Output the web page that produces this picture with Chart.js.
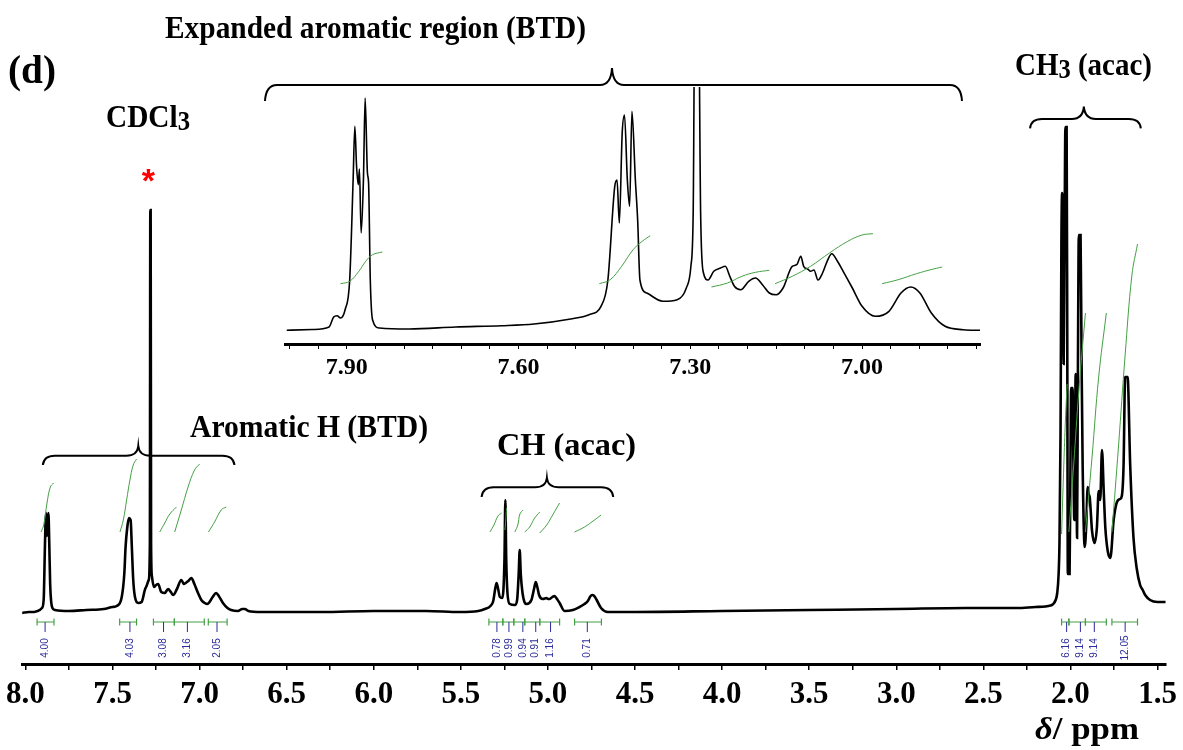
<!DOCTYPE html>
<html><head><meta charset="utf-8">
<script src="https://cdn.jsdelivr.net/npm/chart.js@4.4.1/dist/chart.umd.min.js"></script>
<style>
html,body{margin:0;padding:0;background:#fff;}
#wrap{position:relative;width:1183px;height:750px;overflow:hidden;background:#fff;}
#main{position:absolute;left:0;top:0;}
#inset{position:absolute;left:270px;top:60px;}
</style></head><body>
<div id="wrap"><canvas id="main" width="1183" height="750"></canvas><canvas id="inset" width="730" height="330"></canvas></div>
<script>
// ---------- DATA ----------
// main 1H NMR trace (ppm, intensity above axis)
const mainPpm = [8.019,7.98,7.95,7.93,7.905,7.895,7.889,7.885,7.881,7.877,7.872,7.868,7.863,7.858,7.852,7.845,7.83,7.75,7.65,7.55,7.50,
 7.476,7.447,7.432,7.425,7.415,7.406,7.396,7.389,7.381,7.371,7.352,7.333,7.31,7.292,7.2855,7.283,7.281,7.2785,7.274,7.262,7.25,7.238,7.22,7.20,7.181,7.165,7.152,7.13,7.105,7.09,7.08,7.065,7.047,7.03,7.009,6.99,6.971,6.955,6.943,6.925,6.905,6.89,6.866,6.84,6.819,6.78,6.755,6.74,6.72,6.647,6.3,6.0,5.7,
 5.505,5.40,5.362,5.33,5.314,5.303,5.295,5.287,5.276,5.262,5.2495,5.2445,5.2395,5.232,5.219,5.19,5.177,5.168,5.162,5.156,5.146,5.135,5.123,5.095,5.08,5.07,5.061,5.051,5.029,5.009,4.999,4.99,4.975,4.962,4.948,4.933,4.905,4.857,4.819,4.79,4.771,4.755,4.743,4.73,4.72,4.695,4.657,4.5,4.0,3.5,3.0,2.6,2.305,
 2.2,2.114,2.085,2.076,2.068,2.063,2.057,2.052,2.048,2.043,2.039,2.034,2.029,2.022,2.018,2.015,2.005,2.0,1.996,1.988,1.983,1.978,1.974,1.97,1.966,1.962,1.957,1.952,1.942,1.936,1.93,1.918,1.909,1.901,1.895,1.889,1.876,1.861,1.848,1.838,1.829,1.819,1.809,1.8,1.786,1.771,1.752,1.733,1.715,1.705,1.695,1.686,1.672,1.657,1.638,1.619,1.6,1.585,1.571,1.543,1.5,1.453];
const mainInt = [51,52,52,53,56,65,110,140,151,128,145,151,120,80,62,56,54,53,54,55,57,
 58,67,91,117,137,146,144,117,84,67,61,62,76,84,120,454,454,120,88,77,79,80,72,71,75,72,69,75,84,80,81,83,86,80,71,64,61,60,62,67,71,68,61,56,54,53,55,55,53,52,52,53,53,
 52,53,55,58,63,75,81,76,67,66,105,164,105,70,60,59,64,90,114,90,71,62,60,64,75,82,77,69,65,66,65,65,67,68,65,61,53,54,57,60,63,68,69,67,64,56,52,52,53,54,55,56,56,
 57,58.5,64,71,90,122,230,420,471,440,300,420,537,537,300,90,90,200,276,276,200,144,220,290,220,126,300,429,429,300,199,117,140,177,170,166,133,121,137,173,164,214,173,137,113,106,144,162,165,168,199,287,287,199,126,95,79,74,69,64,62,62];

// expanded aromatic region trace (ppm, intensity above inset axis)
const insetPpm = [8.005,7.96,7.931,7.923,7.917,7.911,7.903,7.895,7.889,7.886,7.883,7.880,7.878,7.875,7.871,7.868,7.864,7.862,7.859,7.855,7.843,7.791,7.71,7.63,7.573,7.509,7.477,7.456,7.444,7.432,7.428,7.424,7.419,7.415,7.41,7.406,7.402,7.396,7.392,7.388,7.376,7.348,7.323,7.307,7.299,7.295,7.2915,7.2865,7.282,7.277,7.269,7.259,7.247,7.239,7.231,7.223,7.212,7.198,7.186,7.174,7.162,7.15,7.138,7.122,7.114,7.107,7.102,7.095,7.09,7.084,7.077,7.069,7.061,7.053,7.043,7.033,7.017,7.0,6.977,6.953,6.932,6.915,6.899,6.879,6.855,6.823,6.794];
const insetInt = [13.7,14.5,17,27,28.3,26,34.3,64,164,217.7,177.7,159.3,175,111,164,246,171,161,64,24,16,15,17,18.3,20,25,29.3,37.7,64,157.7,164,121,211,229,164,137.7,232.7,164,124,64,51,42.7,44.3,56,77.7,131,400,400,131,71,64,72.7,76,77.7,67.7,57.7,54.3,62.7,66,59.3,51,49.3,56,77.7,79.3,87.7,77.7,75,72.7,74,64,71,82.7,90.3,82.7,72.7,56,37.7,27.7,32.7,51,57,51,31,17.7,14.3,13.7];

// integral curves (green), main spectrum
const mainIntegralPpm = [
 [7.910,7.895,7.876,7.857,7.838],
 [7.457,7.438,7.419,7.400,7.381,7.362],
 [7.229,7.200,7.171,7.133],
 [7.143,7.105,7.066,7.029,7.000],
 [6.949,6.914,6.876,6.847],
 [5.333,5.310,5.287,5.266],
 [5.247,5.242,5.238],
 [5.190,5.173,5.161,5.142],
 [5.133,5.105,5.076,5.047],
 [5.047,5.007,4.973,4.933],
 [4.847,4.790,4.733,4.695],
 [2.051,2.038,2.029,2.019],
 [2.009,1.981,1.952,1.914],
 [1.914,1.876,1.838,1.794],
 [1.762,1.724,1.686,1.647,1.615]];
const mainIntegralVal = [
 [132,139,161,177,181],
 [132,144,164,184,199,205],
 [132,141,150,157],
 [132,154,177,194,200],
 [132,142,154,157],
 [132,139,148,151],
 [134,144,156],
 [132,139,150,154],
 [132,137,146,152],
 [131,139,149,161],
 [132,137,144,149],
 [130,200,243,280],
 [132,200,273,351],
 [132,207,287,351],
 [132,218,309,389,420]];

// integral curves (green), inset
const insetIntegralPpm = [
 [7.911,7.895,7.879,7.867,7.855,7.838],
 [7.459,7.44,7.42,7.40,7.384,7.37],
 [7.263,7.235,7.21,7.186,7.162],
 [7.152,7.122,7.09,7.057,7.025,7.0,6.981],
 [6.965,6.937,6.905,6.88,6.86]];
const insetIntegralVal = [
 [60.3,62.7,72.7,82.7,89.3,92],
 [60.3,64.3,77.7,94.3,102.7,108.3],
 [57,61,67.7,71.7,73.7],
 [60.3,67.7,77.7,91,102.7,109,110.3],
 [60.3,64.3,70.3,74.3,77]];

// integration ranges and values
const integFrom = [7.933,7.459,7.265,7.145,6.950,5.339,5.259,5.196,5.133,5.047,4.847,2.051,2.009,1.914,1.762];
const integTo   = [7.836,7.362,7.145,6.973,6.842,5.259,5.196,5.133,5.047,4.933,4.693,2.009,1.914,1.794,1.615];
const integValues = [4.00,4.03,3.08,3.16,2.05,0.78,0.99,0.94,0.91,1.16,0.71,6.16,9.14,9.14,12.05];
const integLabelPpm = [7.887,7.40,7.207,7.07,6.90,5.293,5.224,5.144,5.07,4.985,4.774,2.022,1.943,1.863,1.686];

// axis ticks
const mainTicks = [8.0,7.75,7.5,7.25,7.0,6.75,6.5,6.25,6.0,5.75,5.5,5.25,5.0,4.75,4.5,4.25,4.0,3.75,3.5,3.25,3.0,2.75,2.5,2.25,2.0,1.75,1.5];
const mainTickLabels = [8.0,7.5,7.0,6.5,6.0,5.5,5.0,4.5,4.0,3.5,3.0,2.5,2.0,1.5];
const insetTicks = [8.00,7.95,7.90,7.85,7.80,7.75,7.70,7.65,7.60,7.55,7.50,7.45,7.40,7.35,7.30,7.25,7.20,7.15,7.10,7.05,7.00,6.95,6.90,6.85,6.80];
const insetTickLabels = [7.90,7.60,7.30,7.00];

// bracket spans (ppm) on main spectrum: [left, tip, right]
const bracketPpm = [[7.90,7.352,6.80],[5.381,5.006,4.625],[2.232,1.923,1.596]];

// ---------- RENDER ----------
const SERIF = '"Liberation Serif","Times New Roman",serif';
const SANS = '"Liberation Sans",Arial,sans-serif';
const GREEN = '#45a045';
const BLUE = '#2c2c9a';
const near = (a,b)=>Math.abs(a-b)<1e-6;
const pts = (xs,ys)=>xs.map((x,i)=>({x:x,y:ys[i]}));

function richText(ctx, parts, x0, x1, baseline){
  ctx.save();
  ctx.textAlign='left'; ctx.textBaseline='alphabetic'; ctx.fillStyle='#000';
  let w=0;
  parts.forEach(p=>{ctx.font=p.font; p.w=ctx.measureText(p.t).width; w+=p.w;});
  const s=(x1-x0)/w;
  ctx.translate(x0, baseline); ctx.scale(s,1);
  let x=0;
  parts.forEach(p=>{ctx.font=p.font; ctx.fillText(p.t,x,p.dy||0); x+=p.w;});
  ctx.restore();
}
function brace(ctx, x1, xm, x2, yEnd, yLine, yTip){
  const r=12, r2=12;
  ctx.beginPath();
  ctx.moveTo(x1,yEnd);
  ctx.quadraticCurveTo(x1+1,yLine,x1+r,yLine);
  ctx.lineTo(xm-r2,yLine);
  ctx.quadraticCurveTo(xm-1,yLine,xm,yTip);
  ctx.quadraticCurveTo(xm+1,yLine,xm+r2,yLine);
  ctx.lineTo(x2-r,yLine);
  ctx.quadraticCurveTo(x2-1,yLine,x2,yEnd);
  ctx.stroke();
}

const mainDecor = {
  id:'mainDecor',
  beforeDraw(c){ const ctx=c.ctx; ctx.save(); ctx.fillStyle='#fff'; ctx.fillRect(0,0,c.width,c.height); ctx.restore(); },
  afterDatasetsDraw(c){
    const ctx=c.ctx, xs=c.scales.x, bottom=c.chartArea.bottom;
    ctx.save();
    // integration bars and labels
    const yb = bottom-42;
    for(let i=0;i<integFrom.length;i++){
      const a=xs.getPixelForValue(integFrom[i]), b=xs.getPixelForValue(integTo[i]);
      const xl=xs.getPixelForValue(integLabelPpm[i]);
      ctx.strokeStyle=GREEN; ctx.lineWidth=1.2;
      ctx.beginPath(); ctx.moveTo(a,yb); ctx.lineTo(b,yb);
      ctx.moveTo(a,yb-3.5); ctx.lineTo(a,yb+3.5); ctx.moveTo(b,yb-3.5); ctx.lineTo(b,yb+3.5); ctx.stroke();
      ctx.strokeStyle=BLUE; ctx.lineWidth=1;
      ctx.beginPath(); ctx.moveTo(xl,yb); ctx.lineTo(xl,yb+10); ctx.stroke();
      ctx.save(); ctx.translate(xl, bottom-16); ctx.rotate(-Math.PI/2);
      ctx.font='10px '+SANS; ctx.fillStyle=BLUE; ctx.textAlign='center'; ctx.textBaseline='middle';
      ctx.fillText(integValues[i].toFixed(2),0,0); ctx.restore();
    }
    // brackets
    ctx.strokeStyle='#000'; ctx.lineWidth=2;
    const bY=[[465,455.7,446],[497,487.3,478],[128.3,119,106.7]];
    bracketPpm.forEach((b,k)=>{
      brace(ctx, xs.getPixelForValue(b[0]), xs.getPixelForValue(b[1]), xs.getPixelForValue(b[2]), bY[k][0], bY[k][1], bY[k][2]);
    });
    brace(ctx, 265, 612, 962, 101, 85, 68);
    // texts
    const B=(s)=>'bold '+s+'px '+SERIF;
    richText(ctx,[{t:'(d)',font:B(40)}],8,56,83);
    richText(ctx,[{t:'Expanded aromatic region (BTD)',font:B(32)}],165,586,38);
    richText(ctx,[{t:'CDCl',font:B(32)},{t:'3',font:B(27),dy:3}],106,190,127);
    richText(ctx,[{t:'Aromatic H (BTD)',font:B(32)}],190,428,437);
    richText(ctx,[{t:'CH (acac)',font:B(32)}],497,636,455);
    richText(ctx,[{t:'CH',font:B(32)},{t:'3',font:B(27),dy:3},{t:' (acac)',font:B(32)}],1015,1152,75);
    richText(ctx,[{t:'\u03B4',font:'italic bold 32px '+SERIF},{t:'/ ppm',font:B(32)}],1035,1139,739);
    // red asterisk marking CDCl3
    ctx.fillStyle='#ff0000'; ctx.font='bold 34px '+SANS; ctx.textAlign='center'; ctx.textBaseline='alphabetic';
    ctx.fillText('*', xs.getPixelForValue(7.2935), 192);
    ctx.restore();
  }
};

Chart.defaults.font.family = SERIF;

new Chart(document.getElementById('main'), {
  type:'line',
  data:{datasets:[
    {data:pts(mainPpm,mainInt), borderColor:'#000', borderWidth:2.6, pointRadius:0, cubicInterpolationMode:'monotone', order:1},
    ...mainIntegralPpm.map((a,k)=>({data:pts(a,mainIntegralVal[k]), borderColor:GREEN, borderWidth:1, pointRadius:0, tension:0.4, order:0}))
  ]},
  options:{
    responsive:false, animation:false, devicePixelRatio:1,
    layout:{padding:{left:20,right:14,top:60,bottom:0}},
    plugins:{legend:{display:false},tooltip:{enabled:false}},
    scales:{
      x:{type:'linear', reverse:true, min:1.453, max:8.019,
        afterBuildTicks(s){ s.ticks = mainTicks.map(v=>({value:v})); },
        afterFit(s){ s.height = 86; },
        grid:{display:true, drawOnChartArea:false, drawTicks:true, tickLength:6, color:'#000', lineWidth:1.5},
        border:{display:true, color:'#000', width:3},
        ticks:{autoSkip:false, maxRotation:0, minRotation:0, padding:6, color:'#000',
          font:{family:SERIF, size:31, weight:'bold'},
          callback:(v)=> mainTickLabels.some(t=>near(t,v)) ? v.toFixed(1) : ''}
      },
      y:{display:false, min:0, max:604}
    }
  },
  plugins:[mainDecor]
});

new Chart(document.getElementById('inset'), {
  type:'line',
  data:{datasets:[
    {data:pts(insetPpm,insetInt), borderColor:'#000', borderWidth:1.6, pointRadius:0, cubicInterpolationMode:'monotone', order:1},
    ...insetIntegralPpm.map((a,k)=>({data:pts(a,insetIntegralVal[k]), borderColor:GREEN, borderWidth:1, pointRadius:0, tension:0.4, order:0}))
  ]},
  options:{
    responsive:false, animation:false, devicePixelRatio:1,
    layout:{padding:{left:15,right:20,top:27,bottom:0}},
    plugins:{legend:{display:false},tooltip:{enabled:false}},
    scales:{
      x:{type:'linear', reverse:true, min:6.794, max:8.008,
        afterBuildTicks(s){ s.ticks = insetTicks.map(v=>({value:v})); },
        afterFit(s){ s.height = 46; },
        grid:{display:true, drawOnChartArea:false, drawTicks:true, tickLength:5, color:'#000', lineWidth:1},
        border:{display:true, color:'#000', width:3},
        ticks:{autoSkip:false, maxRotation:0, minRotation:0, padding:4, color:'#000',
          font:{family:SERIF, size:24, weight:'bold'},
          callback:(v)=> insetTickLabels.some(t=>near(t,v)) ? v.toFixed(2) : ''}
      },
      y:{display:false, min:0, max:257}
    }
  }
});
</script>
</body></html>
